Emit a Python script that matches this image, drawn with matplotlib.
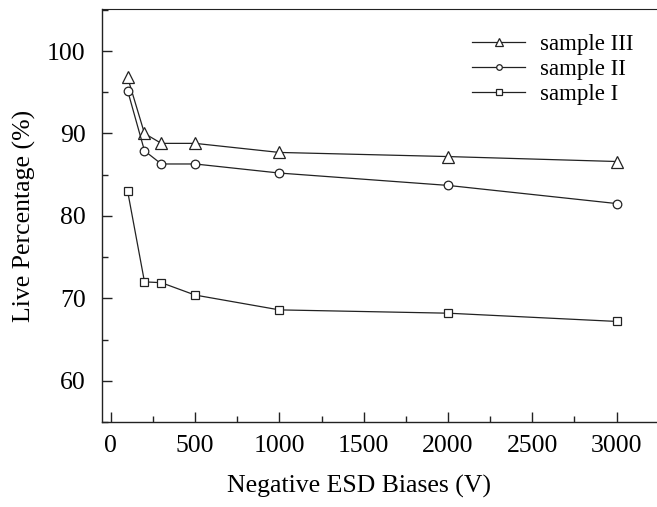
import matplotlib
matplotlib.use('Agg')
import matplotlib.pyplot as plt
from matplotlib.ticker import MultipleLocator

plt.rcParams['font.family'] = ['Liberation Serif', 'DejaVu Serif']

bias = [100, 200, 300, 500, 1000, 2000, 3000]
sample3 = [96.8, 90.0, 88.8, 88.8, 87.7, 87.2, 86.6]
sample2 = [95.2, 87.9, 86.3, 86.3, 85.2, 83.7, 81.5]
sample1 = [83.0, 72.0, 71.9, 70.4, 68.6, 68.2, 67.2]

W, H = 657, 507
fig = plt.figure(figsize=(W / 100, H / 100), dpi=100)
ax = fig.add_axes([101.5 / W, (H - 422) / H, (W - 101.5) / W, (422 - 9) / H])

lc = '#222222'
l3, = ax.plot(bias, sample3, '-^', color=lc, lw=0.9, ms=8.5, mfc='white', mec=lc, mew=0.9)
l2, = ax.plot(bias, sample2, '-o', color=lc, lw=0.9, ms=6.2, mfc='white', mec=lc, mew=0.9)
l1, = ax.plot(bias, sample1, '-s', color=lc, lw=0.9, ms=6.0, mfc='white', mec=lc, mew=0.9)

ax.set_xlim(-55, 3240)
ax.set_ylim(55, 105.1)
ax.xaxis.set_major_locator(MultipleLocator(500))
ax.xaxis.set_minor_locator(MultipleLocator(250))
ax.yaxis.set_major_locator(MultipleLocator(10))
ax.yaxis.set_minor_locator(MultipleLocator(5))
ax.set_yticks([60, 70, 80, 90, 100])

ax.tick_params(which='both', direction='in', color=lc, width=1.0, labelsize=18.5)
ax.tick_params(which='major', length=7.5)
ax.tick_params(which='minor', length=4)
ax.tick_params(axis='x', pad=9)
ax.tick_params(axis='y', pad=11.5)

ax.spines['right'].set_visible(False)
ax.spines['left'].set_linewidth(1.0)
ax.spines['bottom'].set_linewidth(1.0)
ax.spines['top'].set_linewidth(0.8)
for s in ax.spines.values():
    s.set_color(lc)

ax.set_xlabel('Negative ESD Biases (V)', fontsize=18.5)
ax.set_ylabel('Live Percentage (%)', fontsize=18.5)
ax.xaxis.set_label_coords(0.4636, -0.128)
ax.yaxis.set_label_coords(-0.118, 0.5)

ax.legend([l3, l2, l1], ['sample III', 'sample II', 'sample I'], loc='upper right',
          bbox_to_anchor=(0.995, 0.99), frameon=False, fontsize=16.5, markerscale=0.65,
          handlelength=2.3, handletextpad=0.65, labelspacing=0.18)

fig.savefig('out.png', dpi=100)
